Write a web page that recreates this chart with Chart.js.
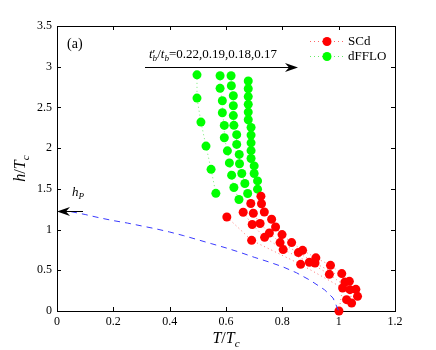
<!DOCTYPE html>
<html>
<head>
<meta charset="utf-8">
<script src="https://cdn.jsdelivr.net/npm/chart.js@4.4.0/dist/chart.umd.min.js"></script>
<style>
html, body { margin: 0; padding: 0; background: #fff; }
#grafica { display: block; }
</style>
</head>
<body>
<canvas id="grafica" width="436" height="350"></canvas>
<script>
// Marcas de los ejes
const ticksT = [0, 0.2, 0.4, 0.6, 0.8, 1, 1.2];
const ticksH = [0, 0.5, 1, 1.5, 2, 2.5, 3, 3.5];

// t'_b/t_b = 0.22
const tFFLO_022 = [0.497, 0.497, 0.511, 0.529, 0.547, 0.564];
const hFFLO_022 = [2.90, 2.615, 2.32, 2.025, 1.74, 1.445];
const tSCd_022 = [0.603, 0.691, 0.865, 1.014, 1.001];
const hSCd_022 = [1.155, 0.868, 0.573, 0.282, 0.0];

// t'_b/t_b = 0.19
const tFFLO_019 = [0.579, 0.579, 0.587, 0.587, 0.594, 0.594, 0.605, 0.612, 0.620, 0.628, 0.646];
const hFFLO_019 = [2.889, 2.734, 2.582, 2.434, 2.279, 2.127, 1.967, 1.819, 1.668, 1.517, 1.369];
const tSCd_019 = [0.661, 0.693, 0.737, 0.803, 0.896, 0.967, 1.040, 1.028];
const hSCd_019 = [1.213, 1.062, 0.905, 0.754, 0.598, 0.450, 0.262, 0.139];

// t'_b/t_b = 0.18
const tFFLO_018 = [0.618, 0.619, 0.626, 0.626, 0.626, 0.628, 0.638, 0.638, 0.647, 0.648, 0.656, 0.667, 0.677];
const hFFLO_018 = [2.889, 2.766, 2.643, 2.520, 2.400, 2.280, 2.166, 2.046, 1.923, 1.809, 1.689, 1.566, 1.443];
const tSCd_018 = [0.688, 0.697, 0.721, 0.754, 0.792, 0.857, 0.916, 1.038, 1.046];
const hSCd_018 = [1.320, 1.200, 1.074, 0.958, 0.840, 0.717, 0.589, 0.364, 0.097];

// t'_b/t_b = 0.17
const tFFLO_017 = [0.679, 0.679, 0.679, 0.679, 0.679, 0.679, 0.689, 0.689, 0.689, 0.689, 0.689, 0.700, 0.700, 0.712, 0.712];
const hFFLO_017 = [2.824, 2.729, 2.633, 2.538, 2.443, 2.348, 2.255, 2.160, 2.065, 1.969, 1.873, 1.782, 1.689, 1.598, 1.496];
const tSCd_017 = [0.724, 0.726, 0.736, 0.762, 0.776, 0.799, 0.833, 0.872, 0.919, 0.971, 1.011, 1.022, 1.061, 1.067];
const hSCd_017 = [1.410, 1.317, 1.216, 1.127, 1.032, 0.938, 0.840, 0.745, 0.653, 0.561, 0.459, 0.355, 0.266, 0.180];

// Limite de Pauli h_P
const tPauli = [0.05, 0.1, 0.15, 0.2, 0.25, 0.3, 0.35, 0.4, 0.45, 0.5, 0.55, 0.6, 0.65, 0.7, 0.75, 0.8, 0.85, 0.9, 0.95, 0.98, 1.0];
const hPauli = [1.22, 1.185, 1.145, 1.11, 1.08, 1.045, 1.01, 0.97, 0.925, 0.875, 0.825, 0.775, 0.72, 0.66, 0.605, 0.545, 0.47, 0.375, 0.26, 0.16, 0.0];

const ROJO = "#ff0000", VERDE = "#00ff00", AZUL = "#3a3aff";
const FUENTE = '"Liberation Serif", "Times New Roman", serif';

const puntos = (ts, hs) => ts.map((t, i) => ({ x: t, y: hs[i] }));

function serie(ts, hs, color, linea) {
    return {
        data: puntos(ts, hs), showLine: true, clip: false,
        borderColor: linea, borderWidth: 1, borderDash: [1, 3],
        pointRadius: 4.5, pointBackgroundColor: color, pointBorderWidth: 0, pointHoverRadius: 4.5
    };
}

// Texto con cursiva y subindices
function anchoRico(ctx, partes, tam) {
    let w = 0;
    partes.forEach(p => {
        ctx.font = (p.it ? "italic " : "") + (p.sub ? tam * 0.7 : tam) + "px " + FUENTE;
        if (!p.stack) w += ctx.measureText(p.t).width;
    });
    return w;
}
function textoRico(ctx, x, y, partes, tam) {
    let cx = x;
    partes.forEach(p => {
        ctx.font = (p.it ? "italic " : "") + (p.sub ? tam * 0.7 : tam) + "px " + FUENTE;
        ctx.fillText(p.t, cx, y + (p.sub ? tam * 0.25 : 0));
        if (!p.stack) cx += ctx.measureText(p.t).width;
    });
}

function flecha(ctx, x0, y0, x1, y1) {
    const ang = Math.atan2(y1 - y0, x1 - x0), L = 13, W = 4.5;
    ctx.beginPath(); ctx.moveTo(x0, y0); ctx.lineTo(x1 - Math.cos(ang) * 8, y1 - Math.sin(ang) * 8); ctx.stroke();
    const c = Math.cos(ang), s = Math.sin(ang);
    ctx.beginPath();
    ctx.moveTo(x1, y1);
    ctx.lineTo(x1 - L * c + W * s, y1 - L * s - W * c);
    ctx.lineTo(x1 - 9 * c, y1 - 9 * s);
    ctx.lineTo(x1 - L * c - W * s, y1 - L * s + W * c);
    ctx.closePath(); ctx.fill();
}

const marco = {
    id: "marco",
    beforeDatasetsDraw(chart) {
        const { ctx, chartArea: a, scales: { x, y } } = chart;
        ctx.save();
        ctx.strokeStyle = "#000"; ctx.lineWidth = 1;
        ctx.strokeRect(Math.round(a.left) + 0.5, Math.round(a.top) + 0.5, Math.round(a.right - a.left), Math.round(a.bottom - a.top));
        ctx.beginPath();
        ticksT.forEach(v => {
            const p = Math.round(x.getPixelForValue(v)) + 0.5;
            ctx.moveTo(p, a.bottom); ctx.lineTo(p, a.bottom - 4);
            ctx.moveTo(p, a.top); ctx.lineTo(p, a.top + 4);
        });
        ticksH.forEach(v => {
            const p = Math.round(y.getPixelForValue(v)) + 0.5;
            ctx.moveTo(a.left, p); ctx.lineTo(a.left + 4, p);
            ctx.moveTo(a.right, p); ctx.lineTo(a.right - 4, p);
        });
        ctx.stroke();
        ctx.restore();
    },
    afterDraw(chart) {
        const { ctx, chartArea: a } = chart;
        ctx.save();
        ctx.fillStyle = "#000"; ctx.strokeStyle = "#000"; ctx.lineWidth = 1;
        ctx.textBaseline = "alphabetic";

        // titulos de ejes
        const tituloX = [{ t: "T", it: true }, { t: "/" }, { t: "T", it: true }, { t: "c", it: true, sub: true }];
        const wx = anchoRico(ctx, tituloX, 16);
        textoRico(ctx, (a.left + a.right) / 2 - wx / 2, 343, tituloX, 16);
        const tituloY = [{ t: "h", it: true }, { t: "/" }, { t: "T", it: true }, { t: "c", it: true, sub: true }];
        const wy = anchoRico(ctx, tituloY, 16);
        ctx.save();
        ctx.translate(25, (a.top + a.bottom) / 2);
        ctx.rotate(-Math.PI / 2);
        textoRico(ctx, -wy / 2, 0, tituloY, 16);
        ctx.restore();

        // (a)
        ctx.font = "14px " + FUENTE;
        ctx.fillText("(a)", 67, 48);

        // t'_b/t_b
        textoRico(ctx, 149, 58, [
            { t: "t", it: true }, { t: "\u2032", stack: true }, { t: "b", it: true, sub: true },
            { t: "/" }, { t: "t", it: true }, { t: "b", it: true, sub: true },
            { t: "=0.22,0.19,0.18,0.17" }
        ], 13);
        flecha(ctx, 145, 67.5, 298, 67.5);

        // h_P
        textoRico(ctx, 72, 196, [{ t: "h", it: true }, { t: "P", it: true, sub: true }], 13);
        flecha(ctx, 83, 211.5, 57, 211.5);

        // leyenda
        const items = [["SCd", ROJO, "rgba(255,0,0,0.6)", 41.5], ["dFFLO", VERDE, "rgba(0,220,0,0.6)", 56.5]];
        items.forEach(([txt, col, lin, yy]) => {
            ctx.save();
            ctx.strokeStyle = lin; ctx.setLineDash([1, 3]);
            ctx.beginPath(); ctx.moveTo(310, yy); ctx.lineTo(344, yy); ctx.stroke();
            ctx.restore();
            ctx.fillStyle = col;
            ctx.beginPath(); ctx.arc(327, yy, 4.5, 0, Math.PI * 2); ctx.fill();
            ctx.fillStyle = "#000";
            ctx.font = "13px " + FUENTE;
            ctx.textBaseline = "middle";
            ctx.fillText(txt, 348, yy + 0.5);
            ctx.textBaseline = "alphabetic";
        });
        ctx.restore();
    }
};

const etiqueta = v => String(Math.round(v * 10) / 10);

new Chart(document.getElementById("grafica"), {
    type: "scatter",
    data: {
        datasets: [
            {
                data: puntos(tPauli, hPauli), showLine: true, clip: false,
                borderColor: AZUL, borderWidth: 1, borderDash: [6, 5], pointRadius: 0, pointHoverRadius: 0
            },
            serie(tSCd_022, hSCd_022, ROJO, "rgba(255,0,0,0.55)"),
            serie(tSCd_019, hSCd_019, ROJO, "rgba(255,0,0,0.55)"),
            serie(tSCd_018, hSCd_018, ROJO, "rgba(255,0,0,0.55)"),
            serie(tSCd_017, hSCd_017, ROJO, "rgba(255,0,0,0.55)"),
            serie(tFFLO_022, hFFLO_022, VERDE, "rgba(0,220,0,0.55)"),
            serie(tFFLO_019, hFFLO_019, VERDE, "rgba(0,220,0,0.55)"),
            serie(tFFLO_018, hFFLO_018, VERDE, "rgba(0,220,0,0.55)"),
            serie(tFFLO_017, hFFLO_017, VERDE, "rgba(0,220,0,0.55)")
        ]
    },
    options: {
        responsive: false,
        animation: false,
        devicePixelRatio: 1,
        layout: { padding: { top: 26, right: 41, left: 0, bottom: 0 } },
        plugins: { legend: { display: false }, tooltip: { enabled: false } },
        scales: {
            x: {
                type: "linear", min: 0, max: 1.2,
                afterBuildTicks: s => { s.ticks = ticksT.map(v => ({ value: v })); },
                afterFit: s => { s.height = 39; },
                grid: { display: false, drawTicks: false },
                border: { display: false },
                ticks: { padding: 4, color: "#000", font: { family: FUENTE, size: 12 }, callback: etiqueta, maxRotation: 0 }
            },
            y: {
                type: "linear", min: 0, max: 3.5,
                afterBuildTicks: s => { s.ticks = ticksH.map(v => ({ value: v })); },
                afterFit: s => { s.width = 57; },
                grid: { display: false, drawTicks: false },
                border: { display: false },
                ticks: { padding: 5, color: "#000", font: { family: FUENTE, size: 12 }, callback: etiqueta }
            }
        }
    },
    plugins: [marco]
});
</script>
</body>
</html>
